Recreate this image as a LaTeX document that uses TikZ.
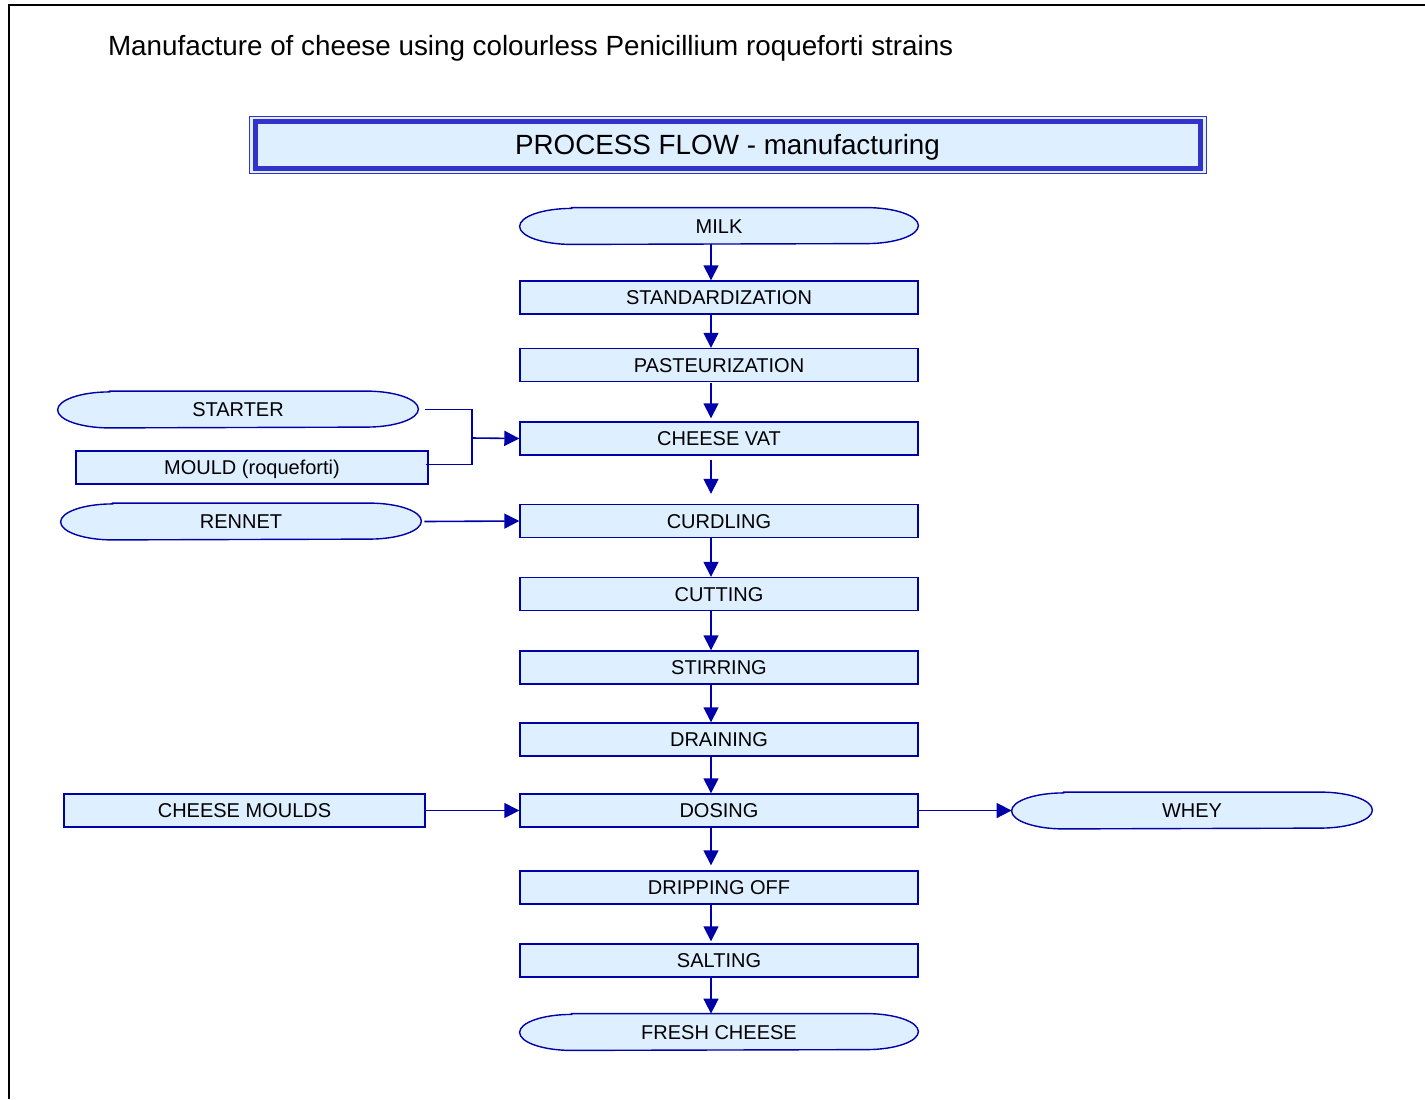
\documentclass[tikz,border=0pt]{standalone}
\usepackage{fontspec}
\setmainfont{Liberation Sans}
\usetikzlibrary{arrows.meta,backgrounds}
\definecolor{flowblue}{RGB}{0,0,168}
\definecolor{frameblue}{RGB}{51,51,204}
\definecolor{boxfill}{RGB}{222,239,255}
\tikzset{
  stepbox/.style = {draw = flowblue, line width = 0.7pt, fill = boxfill, minimum width = 199pt, minimum height = 16.5pt, inner sep = 0pt, text height = 7.2pt, text depth = 0pt, font = \fontsize{10}{12}\selectfont},
  termbox/.style = {minimum width = 199pt, minimum height = 18pt, inner sep = 0pt, text height = 7.2pt, text depth = 0pt, font = \fontsize{10}{12}\selectfont},
  termline/.style = {draw = flowblue, line width = 0.7pt, fill = boxfill},
  flow/.style = {draw = flowblue, line width = 0.8pt, -{Triangle[length = 7.5pt, width = 7.5pt]}},
  link/.style = {draw = flowblue, line width = 0.8pt}
}

\begin{document}
\begin{tikzpicture}[x = 0.5pt, y = -0.5pt]
                            \useasboundingbox (0,0) rectangle (1425,1099);
                            \draw [line width = 1pt](9,1099)--(9,4.5)--(1425,4.5);
                            \node (title)[anchor = west, font = \fontsize{13.9}{16}\selectfont] at (101,48) {Manufacture of cheese using colourless Penicillium roqueforti strains};
                            \node (frame)[draw = frameblue, line width = 0.5pt, fill = boxfill, minimum width = 478.5pt, minimum height = 28.5pt] at (727.5,144.5) {};
                            \node (head)[draw = frameblue, line width = 2.5pt, minimum width = 472.5pt, minimum height = 23.5pt, inner sep = 0pt, text height = 10pt, text depth = 0pt, font = \fontsize{13.9}{16}\selectfont] at (727.5,144.5) {PROCESS FLOW - manufacturing};
                            % main column
                            \node (milk)[termbox] at (719,226) {MILK};
                            \node (std)[stepbox] at (719,297.5) {STANDARDIZATION};
                            \node (past)[stepbox] at (719,365) {PASTEURIZATION};
                            \node (vat)[stepbox] at (719,438.5) {CHEESE VAT};
                            \node (curd)[stepbox] at (719,521) {CURDLING};
                            \node (cut)[stepbox] at (719,594) {CUTTING};
                            \node (stir)[stepbox] at (719,667.5) {STIRRING};
                            \node (drain)[stepbox] at (719,739.5) {DRAINING};
                            \node (dosing)[stepbox] at (719,810.5) {DOSING};
                            \node (drip)[stepbox] at (719,887.5) {DRIPPING OFF};
                            \node (salt)[stepbox] at (719,960.5) {SALTING};
                            \node (fresh)[termbox] at (719,1032) {FRESH CHEESE};
                            % side inputs and outputs
                            \node (starter)[termbox, minimum width = 180pt] at (238,409.5) {STARTER};
                            \node (mould)[stepbox, minimum width = 176pt] at (252,467.5) {MOULD (roqueforti)};
                            \node (rennet)[termbox, minimum width = 180pt] at (241,521.5) {RENNET};
                            \node (moulds)[stepbox, minimum width = 180.5pt] at (244.5,810.5) {CHEESE MOULDS};
                            \node (whey)[termbox, minimum width = 180pt] at (1192,810.5) {WHEY};
                            \begin{scope}[on background layer]
                              \foreach \n in {milk, starter, rennet, whey, fresh}
                                \draw [termline]([xshift = 26pt]\n.north west)--([xshift = -26pt]\n.north east) arc [start angle = 90, end angle = -90, x radius = 26pt, y radius = 9pt]--([xshift = 26pt]\n.south west) arc [start angle = 270, end angle = 90, x radius = 26pt, y radius = 9pt]--cycle;
                            \end{scope}
                            % arrows
                            \draw [flow]([xshift = -4pt]milk.south)--([xshift = -4pt]std.north);
                            \draw [flow]([xshift = -4pt]std.south)--([xshift = -4pt]past.north);
                            \draw [flow, shorten < = 0.5pt, shorten > = 1.5pt]([xshift = -4pt]past.south)--([xshift = -4pt]vat.north);
                            \draw [flow, shorten < = 2pt, shorten > = 5pt]([xshift = -4pt]vat.south)--([xshift = -4pt]curd.north);
                            \draw [flow]([xshift = -4pt]curd.south)--([xshift = -4pt]cut.north);
                            \draw [flow]([xshift = -4pt]cut.south)--([xshift = -4pt]stir.north);
                            \draw [flow]([xshift = -4pt]stir.south)--([xshift = -4pt]drain.north);
                            \draw [flow]([xshift = -4pt]drain.south)--([xshift = -4pt]dosing.north);
                            \draw [flow, shorten > = 2.5pt]([xshift = -4pt]dosing.south)--([xshift = -4pt]drip.north);
                            \draw [flow, shorten > = 1pt]([xshift = -4pt]drip.south)--([xshift = -4pt]salt.north);
                            \draw [flow]([xshift = -4pt]salt.south)--([xshift = -4pt]fresh.north);
                            \coordinate (join) at (472,438);
                            \draw [link]([xshift = 3.5pt]starter.east)-|(join);
                            \draw [link]([xshift = -1.5pt, yshift = 1.5pt]mould.east)-|(join);
                            \draw [flow](join)--(vat.west);
                            \draw [flow]([xshift = 1.5pt]rennet.east)--(curd.west);
                            \draw [flow](moulds.east)--(dosing.west);
                            \draw [flow](dosing.east)--(whey.west);
                        \end{tikzpicture}
\end{document}
